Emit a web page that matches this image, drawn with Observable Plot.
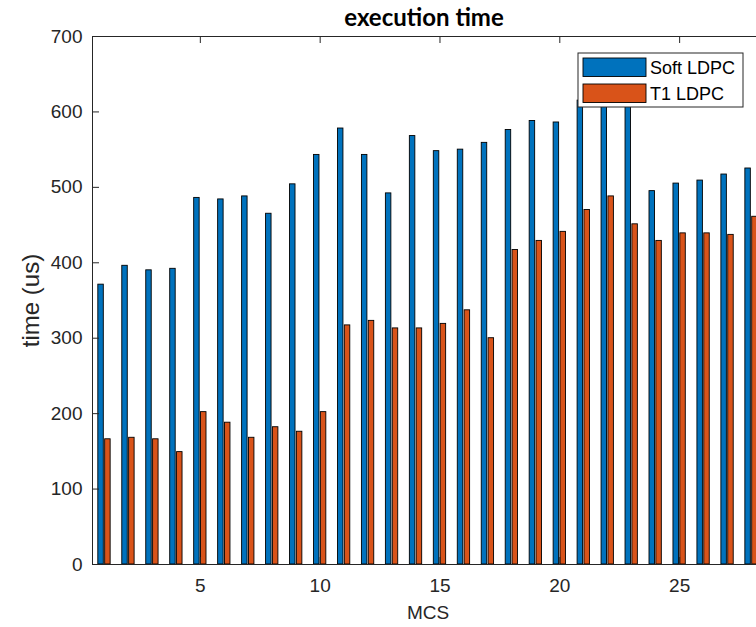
<!DOCTYPE html>
<html><head><meta charset="utf-8">
<script src="https://cdn.jsdelivr.net/npm/d3@7"></script>
<script src="https://cdn.jsdelivr.net/npm/@observablehq/plot@0.6"></script>
<style>
html,body{margin:0;padding:0;background:#fff;overflow:hidden;width:756px;height:627px;}
#chart{position:absolute;left:0;top:0;width:765px;}
#chart svg{max-width:none !important;}
</style></head><body><div id="chart"></div>
<script>
const mcs = [1,2,3,4,5,6,7,8,9,10,11,12,13,14,15,16,17,18,19,20,21,22,23,24,25,26,27,28];
const softLDPC = [371,396,390,392,486,484,488,465,504,543,578,543,492,568,548,550,559,576,588,586,615,650,635,495,505,509,517,525];
const t1LDPC = [166,168,166,149,202,188,168,182,176,202,317,323,313,313,319,337,300,417,429,441,470,488,451,429,439,439,437,461];
const yTicks = [0,100,200,300,400,500,600,700];
const xTicks = [5,10,15,20,25];
const seriesNames = ["Soft LDPC","T1 LDPC"];
const seriesColors = ["#0072BD","#D95319"];
const titleText = "execution time";
const xLabel = "MCS";
const yLabel = "time (us)";

const W = 765, H = 627, mL = 92, mR = 2, mT = 36, mB = 63;
const plotW = W - mL - mR, plotH = H - mT - mB;
const groupW = 2 / 3.5, barW = groupW / 2 * 0.8;
const off = s => (s - 0.5) * groupW / 2;
const tickLen = 7;
const axisColor = "#262626";
const font = "'Liberation Sans', Arial, Helvetica, sans-serif";

function barsFor(values, s) {
  return Plot.rect(mcs, {
    x1: d => d + off(s) - barW / 2,
    x2: d => d + off(s) + barW / 2,
    y1: () => 0,
    y2: (d, i) => values[i],
    fill: seriesColors[s], stroke: "#000", strokeWidth: 0.9
  });
}

const chart = Plot.plot({
  width: W, height: H, marginLeft: mL, marginRight: mR, marginTop: mT, marginBottom: mB,
  style: {fontFamily: font, background: "#fff", color: axisColor, overflow: "visible", maxWidth: "none"},
  x: {domain: [0.5, 28.5]},
  y: {domain: [0, 700]},
  marks: [
    barsFor(softLDPC, 0),
    barsFor(t1LDPC, 1),
    Plot.ruleY(yTicks, {stroke: axisColor, insetRight: plotW - tickLen}),
    Plot.ruleY(yTicks, {stroke: axisColor, insetLeft: plotW - tickLen}),
    Plot.ruleX(xTicks, {stroke: axisColor, insetBottom: plotH - tickLen}),
    Plot.ruleX(xTicks, {stroke: axisColor, insetTop: plotH - tickLen}),
    Plot.frame({stroke: axisColor}),
    Plot.axisY({ticks: yTicks, tickSize: 0, tickPadding: 10, fontSize: 19, label: null, tickFormat: d => String(d)}),
    Plot.axisX({ticks: xTicks, tickSize: 0, tickPadding: 14, fontSize: 19, label: null, tickFormat: d => String(d)}),
    Plot.text([yLabel], {frameAnchor: "left", textAnchor: "middle", lineAnchor: "middle", rotate: -90, dx: -61, fontSize: 24, fill: axisColor}),
    Plot.text([xLabel], {frameAnchor: "bottom", lineAnchor: "middle", dy: 48, fontSize: 19, fill: axisColor}),
    Plot.text([titleText], {frameAnchor: "top", lineAnchor: "middle", dy: -18, dx: -4, fontSize: 24, fontWeight: "bold", fontFamily: "Lato, 'Open Sans', sans-serif", fill: "#000"})
  ]
});
chart.style.maxWidth = "none";
document.getElementById("chart").appendChild(chart);

// legend (inside the axes, top-right, like MATLAB)
const svg = d3.select(chart);
const lg = svg.append("g").attr("class", "legend").attr("text-anchor", "start");
const box = {x: 578, y: 53, w: 165, h: 54};
lg.append("rect").attr("x", box.x).attr("y", box.y).attr("width", box.w).attr("height", box.h)
  .attr("fill", "#fff").attr("stroke", axisColor).attr("stroke-width", 1);
seriesNames.forEach((name, i) => {
  const y0 = box.y + 5 + i * 26;
  lg.append("rect").attr("x", box.x + 5).attr("y", y0).attr("width", 63).attr("height", 18.5)
    .attr("fill", seriesColors[i]).attr("stroke", "#000").attr("stroke-width", 0.9);
  lg.append("text").attr("x", box.x + 72).attr("y", y0 + 9.5).attr("dy", "0.35em")
    .attr("font-family", font).attr("font-size", 18).attr("fill", "#000").text(name);
});
</script></body></html>
